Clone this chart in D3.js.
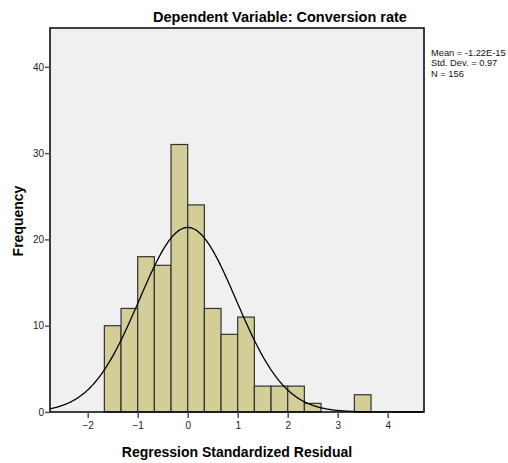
<!DOCTYPE html>
<html>
<head>
<meta charset="utf-8">
<script src="https://cdn.jsdelivr.net/npm/d3@7"></script>
<style>
body{margin:0;background:#fff;}
svg{display:block;font-family:Arial,"Liberation Sans",sans-serif;}
</style>
</head>
<body>
<script>
// histogram bins (standardized residual), width 1/3
const binStarts = [-5/3,-4/3,-1,-2/3,-1/3,0,1/3,2/3,1,4/3,5/3,2,7/3,8/3,3,10/3];
const counts    = [10,12,18,17,31,24,12,9,11,3,3,3,1,0,0,2];
const binWidth = 1/3;
const xTicks = [-2,-1,0,1,2,3,4];
const yTicks = [0,10,20,30,40];
const stats = ["Mean = -1.22E-15","Std. Dev. = 0.97","N = 156"];
const mean = 0, sd = 0.97, n = 156;

const W = 508, H = 463;
const m = {left:50, right:84, top:28, bottom:51};

const svg = d3.select('body').append('svg')
  .attr('width',W).attr('height',H);

const x = d3.scaleLinear().domain([-2.754,4.726]).range([m.left,W-m.right]);
const y = d3.scaleLinear().domain([0,44.5]).range([H-m.bottom,m.top]);

// plot background
svg.append('rect')
  .attr('x',x.range()[0]).attr('y',y.range()[1])
  .attr('width',x.range()[1]-x.range()[0]).attr('height',y.range()[0]-y.range()[1])
  .style('fill','#f0f0f0');

// bars
svg.append('g').selectAll('rect')
  .data(binStarts.map((s,i)=>({s:s,c:counts[i]})).filter(d=>d.c>0))
  .join('rect')
  .attr('x',d=>x(d.s)).attr('width',d=>x(d.s+binWidth)-x(d.s))
  .attr('y',d=>y(d.c)).attr('height',d=>y(0)-y(d.c))
  .style('fill','#d3ce97').style('stroke','#333').style('stroke-width',1.2);

// normal curve
const pts = d3.range(-2.754,4.726,0.02).map(v=>[v,n*binWidth*Math.exp(-0.5*((v-mean)/sd)**2)/(sd*Math.sqrt(2*Math.PI))]);
svg.append('path')
  .attr('d',d3.line().x(d=>x(d[0])).y(d=>y(d[1]))(pts))
  .style('fill','none').style('stroke','#000').style('stroke-width',1.3);

// frame
svg.append('rect')
  .attr('x',x.range()[0]).attr('y',y.range()[1])
  .attr('width',x.range()[1]-x.range()[0]).attr('height',y.range()[0]-y.range()[1])
  .style('fill','none').style('stroke','#000').style('stroke-width',1.5);

// axes
const xAxis = svg.append('g').attr('transform',`translate(0,${y(0)})`)
  .call(d3.axisBottom(x).tickValues(xTicks).tickSize(6).tickPadding(4));
const yAxis = svg.append('g').attr('transform',`translate(${x.range()[0]},0)`)
  .call(d3.axisLeft(y).tickValues(yTicks).tickSize(5).tickPadding(1));
[xAxis,yAxis].forEach(a=>{
  a.select('.domain').remove();
  a.selectAll('line').style('stroke','#555').style('stroke-width',1.5);
  a.selectAll('text').style('font-size','10px').style('fill','#222');
});

// titles
svg.append('text').attr('x',280).attr('y',22).attr('text-anchor','middle')
  .style('font-size','14.5px').style('font-weight','bold').text('Dependent Variable: Conversion rate');
svg.append('text').attr('x',237).attr('y',457).attr('text-anchor','middle')
  .style('font-size','14px').style('font-weight','bold').text('Regression Standardized Residual');
svg.append('text').attr('transform','translate(23,221) rotate(-90)').attr('text-anchor','middle')
  .style('font-size','14px').style('font-weight','bold').text('Frequency');

// stats box
svg.append('g').selectAll('text').data(stats).join('text')
  .attr('x',431).attr('y',(d,i)=>56+i*10.3)
  .style('font-size','9.3px').style('fill','#111').text(d=>d);
</script>
</body>
</html>
